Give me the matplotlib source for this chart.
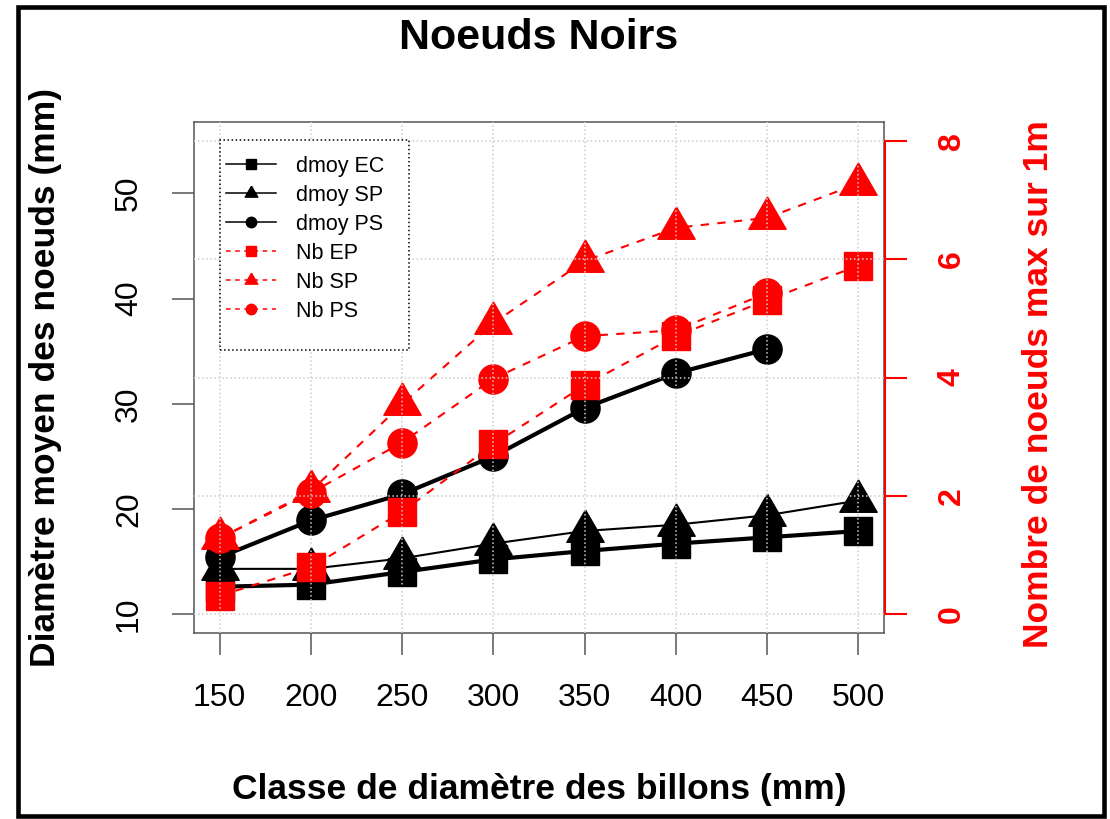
import matplotlib
matplotlib.use("Agg")
import matplotlib.pyplot as plt
from matplotlib.lines import Line2D
from matplotlib.patches import Rectangle

plt.rcParams['font.family'] = ['Liberation Sans', 'DejaVu Sans']

# ---- data ----
classes = [150, 200, 250, 300, 350, 400, 450, 500]
classes_ps = [150, 200, 250, 300, 350, 400, 450]
dmoy_EC = [12.6, 12.8, 14.0, 15.2, 16.0, 16.7, 17.3, 17.9]
dmoy_SP = [14.3, 14.3, 15.3, 16.7, 17.9, 18.5, 19.4, 20.8]
dmoy_PS = [15.4, 18.9, 21.4, 25.0, 29.6, 32.9, 35.2]
nb_EP = [0.31, 0.79, 1.73, 2.87, 3.87, 4.70, 5.31, 5.89]
nb_SP = [1.28, 2.08, 3.55, 4.92, 5.97, 6.53, 6.70, 7.28]
nb_PS = [1.28, 2.05, 2.90, 3.98, 4.70, 4.80, 5.43]
left_ticks = [10, 20, 30, 40, 50]
right_ticks = [0, 2, 4, 6, 8]

title = "Noeuds Noirs"
xlabel = "Classe de diamètre des billons (mm)"
ylabel_left = "Diamètre moyen des noeuds (mm)"
ylabel_right = "Nombre de noeuds max sur 1m"
legend_labels = ["dmoy EC", "dmoy SP", "dmoy PS", "Nb EP", "Nb SP", "Nb PS"]

# R-like triangle (centred on centroid)
TRI = [(0, 1.555), (1.347, -0.778), (-1.347, -0.778), (0, 1.555)]

W, H = 1110, 819
fig = plt.figure(figsize=(W / 100, H / 100), dpi=100)
L, R, T, B = 194, 884, 122, 633
ax = fig.add_axes([L / W, 1 - B / H, (R - L) / W, (B - T) / H])
ax2 = ax.twinx()

box_col = '#555555'

def ax_x(px):
    return (px - L) / (R - L)

def ax_y(py):
    return (B - py) / (B - T)

# ---- left axis (black) ----
ax.plot(classes, dmoy_SP, color='black', lw=1.5, marker=TRI, ms=31, zorder=2)
ax.plot(classes, dmoy_EC, color='black', lw=3.0, marker='s', ms=19.5, zorder=2)
ax.plot(classes_ps, dmoy_PS, color='black', lw=3.0, marker='o', ms=21, zorder=2)
ax.set_xlim(136, 514)
ax.set_ylim(8.2, 56.8)
ax.set_xticks(classes)
ax.set_yticks(left_ticks)
ax.set_xticklabels([str(c) for c in classes])
ax.set_yticklabels([str(v) for v in left_ticks])
ax.tick_params(axis='both', direction='out', length=16, width=1.1, color=box_col,
               pad=20, labelsize=23)
ax.tick_params(axis='y', labelrotation=90)
for s in ax.spines.values():
    s.set_color(box_col)
    s.set_linewidth(1.1)

# ---- right axis (red) ----
ax2.plot(classes, nb_EP, color='red', lw=1.5, ls='--', dashes=(4, 4), marker='s', ms=19.5, zorder=2)
ax2.plot(classes_ps, nb_PS, color='red', lw=1.5, ls='--', dashes=(4, 4), marker='o', ms=21, zorder=2)
ax2.plot(classes, nb_SP, color='red', lw=1.5, ls='--', dashes=(4, 4), marker=TRI, ms=31, zorder=2)
ax2.set_ylim(-0.32, 8.32)
ax2.set_yticks(right_ticks)
ax2.set_yticklabels([str(v) for v in right_ticks])
ax2.tick_params(axis='y', direction='out', length=16, width=1.5, color='red', pad=21,
                labelsize=23, labelcolor='red', labelrotation=90)
for k in ['top', 'left', 'bottom']:
    ax2.spines[k].set_visible(False)
ax2.spines['right'].set_color('red')
ax2.spines['right'].set_linewidth(1.5)
ax2.spines['right'].set_bounds(0, 8)
ax2.spines['right'].set_position(('outward', 1))

# ---- grid on top ----
for c in classes:
    ax2.axvline(c, color='#cccccc', lw=1.1, ls=':', zorder=5)
for v in right_ticks:
    ax2.axhline(v, color='#cccccc', lw=1.1, ls=':', zorder=5)

# ---- legend ----
handles = [
    Line2D([], [], color='black', lw=1.1, marker='s', ms=7.5),
    Line2D([], [], color='black', lw=1.1, marker=TRI, ms=10.5),
    Line2D([], [], color='black', lw=1.1, marker='o', ms=7.5),
    Line2D([], [], color='red', lw=1.1, ls='--', dashes=(3, 3), marker='s', ms=7.5),
    Line2D([], [], color='red', lw=1.1, ls='--', dashes=(3, 3), marker=TRI, ms=10.5),
    Line2D([], [], color='red', lw=1.1, ls='--', dashes=(3, 3), marker='o', ms=7.5),
]
leg_box = Rectangle((ax_x(220), ax_y(350)), ax_x(409) - ax_x(220), ax_y(140) - ax_y(350),
                    transform=ax2.transAxes, facecolor='white', edgecolor='black',
                    lw=1.1, ls=':', zorder=6)
ax2.add_patch(leg_box)
leg = ax2.legend(handles, legend_labels, loc='upper left',
                 bbox_to_anchor=(ax_x(226), ax_y(156)),
                 borderaxespad=0, fontsize=15.5, frameon=False,
                 handlelength=2.3, handletextpad=0.95,
                 labelspacing=0.37, borderpad=0)
leg.set_zorder(7)

# ---- texts ----
cx = (L + R) / 2 / W
cy = 1 - (T + B) / 2 / H
fig.text(cx, 1 - 38 / H, title, ha='center', va='center', fontsize=31, fontweight='bold')
fig.text(cx, 1 - 789 / H, xlabel, ha='center', va='center', fontsize=25.5, fontweight='bold')
fig.text(46 / W, cy, ylabel_left, ha='center', va='center', rotation=90,
         fontsize=25.5, fontweight='bold')
fig.text(1038 / W, 1 - 384 / H, ylabel_right, ha='center', va='center', rotation=90,
         fontsize=25.5, fontweight='bold', color='red')

# ---- outer frame ----
fig.patches.append(Rectangle((18 / W, 1 - 816 / H), (1104 - 18) / W, (816 - 6.5) / H,
                             transform=fig.transFigure, fill=False, edgecolor='black',
                             lw=3.3, zorder=10))

fig.canvas.draw()
for t in ax.get_yticklabels():
    t.set_va('center')
for t in ax2.get_yticklabels():
    t.set_fontweight('bold')
    t.set_va('center')

fig.savefig("out.png", dpi=100)
